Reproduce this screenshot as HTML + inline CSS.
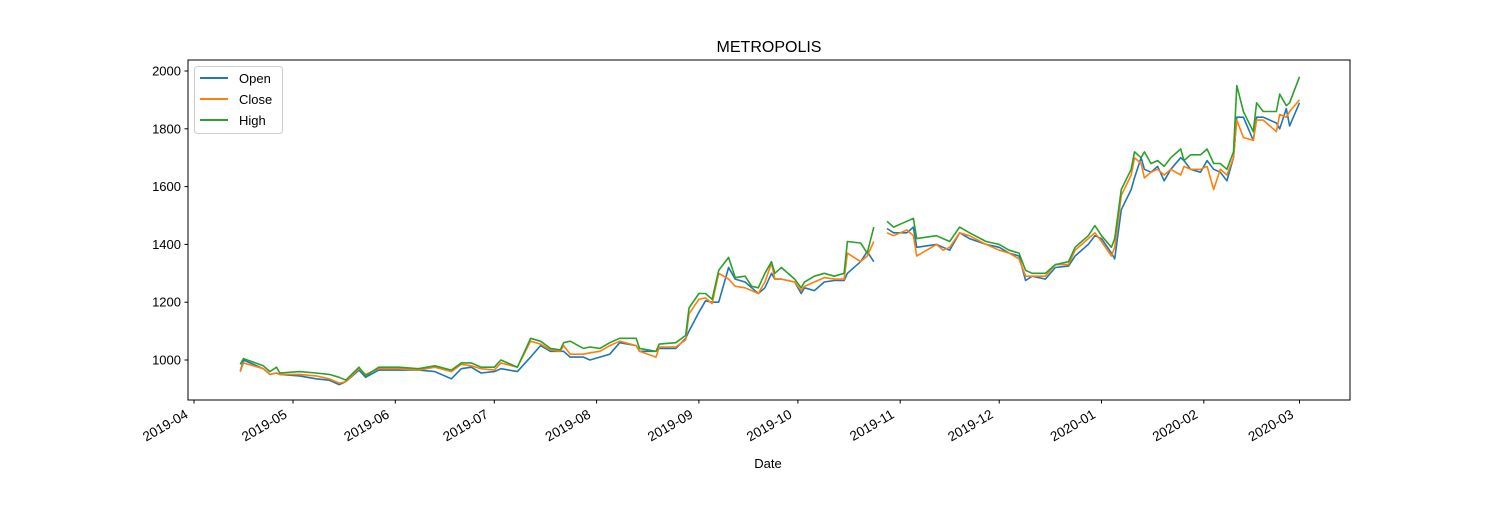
<!DOCTYPE html>
<html><head><meta charset="utf-8"><style>
body{margin:0;background:#fff;}
svg{font-family:"Liberation Sans","DejaVu Sans",sans-serif;}
</style></head><body>
<svg id="chart" width="1500" height="500" xmlns="http://www.w3.org/2000/svg">
<rect width="1500" height="500" fill="#fff"/>
<text x="769" y="52" font-size="16" text-anchor="middle">METROPOLIS</text>
<text x="768" y="468" font-size="13" text-anchor="middle">Date</text>
<g id="plot"></g>
<rect x="188" y="60" width="1162" height="340" fill="none" stroke="#000" stroke-width="1"/>
<g>
<rect x="194.5" y="66.5" width="88" height="67" rx="3" fill="#fff" fill-opacity="0.8" stroke="#ccc"/>
<g><line x1="200" y1="78" x2="228" y2="78" stroke="#1f77b4" stroke-width="2"/><text x="239" y="83" font-size="13">Open</text></g>
<g><line x1="200" y1="99" x2="228" y2="99" stroke="#ff7f0e" stroke-width="2"/><text x="239" y="104" font-size="13">Close</text></g>
<g><line x1="200" y1="120" x2="228" y2="120" stroke="#2ca02c" stroke-width="2"/><text x="239" y="125" font-size="13">High</text></g>
</g>
</svg>
<script>
// day offsets from 2019-04-01
const days = [14,15,21,23,25,26,32,37,41,44,46,50,52,56,62,68,73,78,81,84,87,91,93,98,102,105,108,111,112,114,118,120,123,126,129,134,135,140,141,146,149,150,153,155,157,159,162,164,167,169,171,173,175,176,178,182,184,185,188,191,194,197,198,202,204,206,208,210,212,214,216,218,219,225,227,229,232,235,240,244,247,250,252,254,258,261,265,267,268,271,273,275,278,279,281,284,285,287,288,290,292,294,296,299,300,302,305,307,309,311,313,315,316,318,321,322,324,328,329,331,332,335];
const highVals = [985,1005,980,960,975,955,960,955,950,940,930,975,945,975,975,970,980,965,990,990,975,975,1000,975,1075,1065,1040,1035,1060,1065,1040,1045,1040,1060,1075,1075,1040,1030,1055,1060,1085,1180,1230,1230,1210,1310,1355,1285,1290,1255,1250,1300,1340,1300,1320,1280,1250,1270,1290,1300,1290,1300,1410,1405,1370,1460,null,1480,1460,1470,1480,1490,1420,1430,1420,1410,1460,1440,1410,1400,1380,1370,1310,1300,1300,1330,1340,1390,1400,1430,1465,1430,1390,1420,1590,1660,1720,1700,1720,1680,1690,1670,1700,1730,1690,1710,1710,1730,1680,1680,1660,1720,1950,1860,1790,1890,1860,1860,1920,1880,1890,1980];
const closeVals = [960,990,970,950,955,950,950,945,935,920,925,970,950,970,970,965,975,960,985,980,970,965,990,975,1065,1055,1035,1030,1050,1020,1020,1025,1030,1050,1065,1050,1030,1010,1045,1045,1070,1160,1210,1215,1195,1300,1280,1255,1250,1240,1230,1270,1335,1280,1280,1270,1240,1255,1270,1285,1280,1280,1370,1340,1360,1410,null,1440,1430,1440,1450,1430,1360,1400,1380,1390,1440,1430,1400,1380,1370,1350,1290,1290,1290,1330,1330,1380,1390,1420,1440,1410,1360,1390,1570,1640,1700,1680,1630,1650,1660,1640,1660,1640,1670,1660,1660,1670,1590,1660,1640,1700,1830,1770,1760,1830,1830,1790,1850,1840,1860,1900];
const openVals = [960,1000,970,950,955,950,945,935,930,915,925,965,940,965,965,965,960,935,970,975,955,960,970,960,1010,1050,1030,1030,1030,1010,1010,1000,1010,1020,1060,1050,1030,1030,1040,1040,1075,1100,1165,1205,1200,1200,1320,1280,1270,1250,1230,1250,1300,1280,1280,1270,1230,1250,1240,1270,1275,1275,1300,1340,1375,1340,null,1455,1440,1440,1440,1460,1390,1400,1390,1380,1440,1420,1400,1390,1370,1360,1275,1290,1280,1320,1325,1360,1370,1400,1430,1420,1370,1350,1520,1590,1630,1700,1660,1650,1670,1620,1660,1700,1690,1660,1650,1690,1660,1650,1620,1700,1840,1840,1760,1840,1840,1820,1800,1870,1810,1890];
const yTicks = [1000,1200,1400,1600,1800,2000];
const xTickDays = [0,30,61,91,122,153,183,214,244,275,306,335];
const xTickLabels = ["2019-04","2019-05","2019-06","2019-07","2019-08","2019-09","2019-10","2019-11","2019-12","2020-01","2020-02","2020-03"];

const NS="http://www.w3.org/2000/svg";
const g=document.getElementById('plot');
function xs(d){return 194+d*3.30;}
function ys(v){return 360-(v-1000)*0.289;}
function mk(t,a){const e=document.createElementNS(NS,t);for(const k in a)e.setAttribute(k,a[k]);g.appendChild(e);return e;}

yTicks.forEach(v=>{
  const y=ys(v);
  const l=mk('line',{x1:184.5,x2:188,y1:y,y2:y,stroke:'#000'});
  
  
  const t=mk('text',{x:181,y:y+4.5,'font-size':13,'text-anchor':'end'});
  t.textContent=v;
  
  
});
xTickDays.forEach((d,i)=>{
  const x=xs(d);
  const l=mk('line',{x1:x,x2:x,y1:400,y2:403.5,stroke:'#000'});
  
  
  const tx=x-5, ty=417;
  const t=mk('text',{x:tx,y:ty,'font-size':13.5,'text-anchor':'end',transform:`rotate(-30 ${tx} ${ty})`});
  t.textContent=xTickLabels[i];
  
  
});
function series(vals,color,name){
  let d='',pen=false;
  vals.forEach((v,i)=>{
    if(v===null){pen=false;return;}
    d+=(pen?'L':'M')+xs(days[i]).toFixed(1)+' '+ys(v).toFixed(1);
    pen=true;
  });
  const p=mk('path',{d:d,fill:'none',stroke:color,'stroke-width':1.6,'stroke-linejoin':'round'});
  
  
}
series(openVals,'#1f77b4','open-line');
series(closeVals,'#ff7f0e','close-line');
series(highVals,'#2ca02c','high-line');
</script>
</body></html>
